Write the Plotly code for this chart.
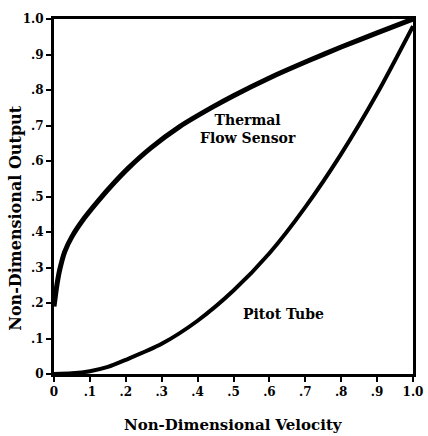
import plotly.graph_objects as go

# Thermal flow sensor curve
thermal_x = [0, 0.008, 0.016, 0.03, 0.05, 0.085, 0.125, 0.165, 0.207, 0.27, 0.35, 0.44, 0.5, 0.6, 0.71, 0.8, 0.9, 1.0]
thermal_y = [0.19, 0.25, 0.294, 0.345, 0.387, 0.44, 0.49, 0.536, 0.58, 0.637, 0.697, 0.751, 0.784, 0.834, 0.883, 0.921, 0.961, 1.0]

# Pitot tube curve
pitot_x = [0, 0.05, 0.1, 0.15, 0.2, 0.3, 0.4, 0.5, 0.6, 0.7, 0.8, 0.9, 1.0]
pitot_y = [0.0, 0.002, 0.008, 0.02, 0.04, 0.085, 0.15, 0.235, 0.34, 0.47, 0.62, 0.79, 0.98]

tick_vals = [0, 0.1, 0.2, 0.3, 0.4, 0.5, 0.6, 0.7, 0.8, 0.9, 1.0]
tick_text = ["<b>0</b>", "<b>.1</b>", "<b>.2</b>", "<b>.3</b>", "<b>.4</b>", "<b>.5</b>",
             "<b>.6</b>", "<b>.7</b>", "<b>.8</b>", "<b>.9</b>", "<b>1.0</b>"]

FONT = "DejaVu Serif"

fig = go.Figure()
fig.add_trace(go.Scatter(x=thermal_x, y=thermal_y, mode="lines",
                         line=dict(color="black", width=5, shape="spline", smoothing=0.8),
                         showlegend=False))
fig.add_trace(go.Scatter(x=pitot_x, y=pitot_y, mode="lines",
                         line=dict(color="black", width=4, shape="spline", smoothing=0.8),
                         showlegend=False))

fig.add_annotation(x=0.54, y=0.69, xref="x", yref="y", text="<b>Thermal<br>Flow Sensor</b>",
                   showarrow=False, font=dict(family=FONT, size=14, color="black"), align="center")
fig.add_annotation(x=0.64, y=0.17, xref="x", yref="y", text="<b>Pitot Tube</b>",
                   showarrow=False, font=dict(family=FONT, size=14, color="black"))

fig.add_annotation(x=-0.106, y=0.44, xref="paper", yref="paper", xanchor="center", yanchor="middle",
                   text="<b>Non-Dimensional Output</b>", textangle=-90, showarrow=False,
                   font=dict(family=FONT, size=16, color="black"))
fig.add_annotation(x=0.5, y=-0.145, xref="paper", yref="paper", xanchor="center", yanchor="middle",
                   text="<b>Non-Dimensional Velocity</b>", showarrow=False,
                   font=dict(family=FONT, size=15, color="black"))

axis_common = dict(range=[0, 1.0], tickvals=tick_vals, ticktext=tick_text,
                   showgrid=False, zeroline=False, showline=True, linecolor="black", linewidth=3,
                   mirror=True, ticks="outside", ticklen=5, tickwidth=2, tickcolor="black",
                   ticklabeloverflow="allow",
                   tickfont=dict(family=FONT, size=12, color="black"))

fig.update_layout(
    width=428, height=436,
    margin=dict(l=54, r=5, t=19, b=62),
    plot_bgcolor="white", paper_bgcolor="white",
    xaxis=dict(**axis_common),
    yaxis=dict(**axis_common),
)
fig.write_html("out.html", config={"displayModeBar": False},
               post_script="document.body.style.margin='0';document.body.style.overflow='hidden';")
